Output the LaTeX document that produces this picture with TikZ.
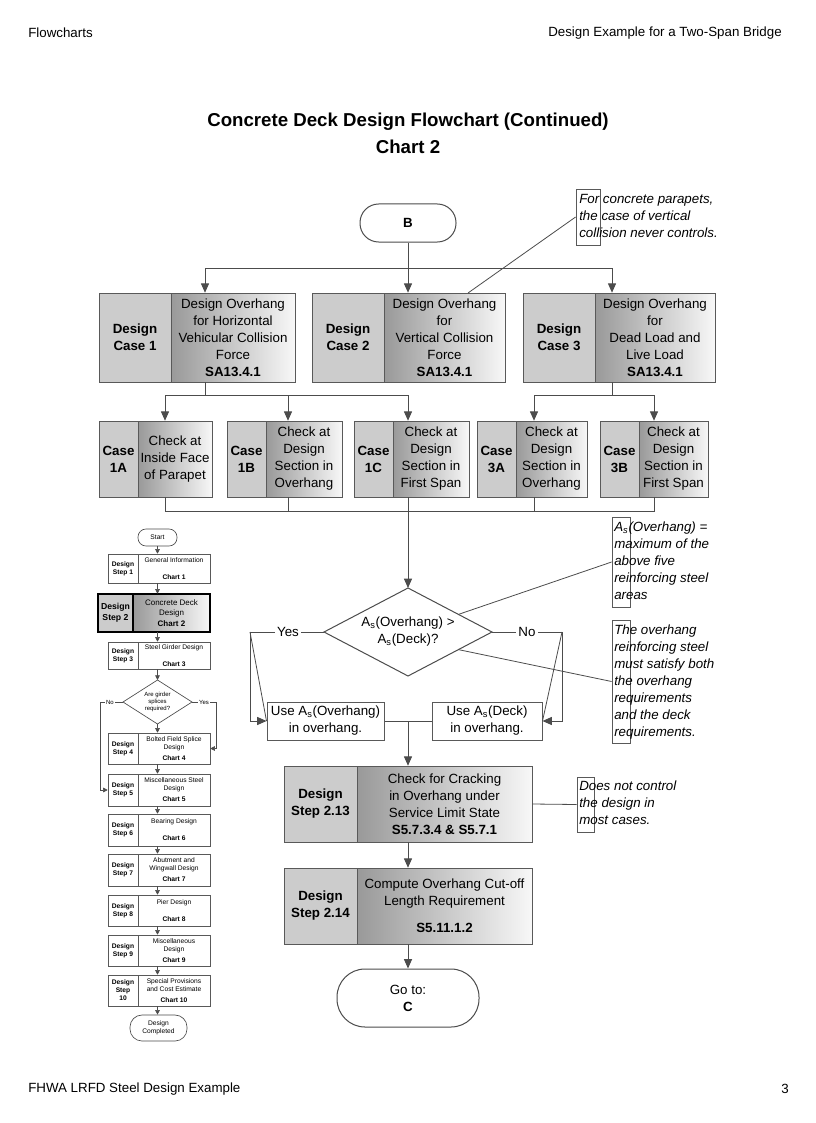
\documentclass[tikz,border=0pt]{standalone}
\usepackage{fontspec}
\setmainfont{Liberation Sans}
\usetikzlibrary{arrows.meta,calc}
\newcommand\pxu{0.75pt}
\newcommand\fs[2]{\fontsize{#1}{#2}\selectfont}
\tikzset{
 ln/.style={draw=black!70, line width=0.75pt},
 thin/.style={draw=black!70, line width=0.6pt},
 arr/.style={ln, -{Triangle[length=7pt,width=6pt]}},
 marr/.style={draw=black!70, line width=0.5pt, -{Triangle[length=3.5pt,width=3.5pt]}},
 mln/.style={draw=black!70, line width=0.5pt},
 lpart/.style={draw=black!65, line width=0.75pt, fill=black!20, inner sep=0pt, align=center, font=\bfseries\fs{10}{12.75}},
 rpart/.style={draw=black!65, line width=0.75pt, left color=black!40, right color=black!3, inner sep=0pt, align=center, font=\fs{10}{12.75}},
 plainbox/.style={draw=black!65, line width=0.75pt, fill=white, inner sep=0pt, align=center, font=\fs{10}{12.75}},
 term/.style={draw=black!70, line width=0.75pt, fill=white, inner sep=0pt, align=center, font=\fs{10}{12.75}},
 note/.style={inner sep=0pt, anchor=west, align=left, font=\itshape\fs{10}{12.75}},
 bracket/.style={draw=black!65, line width=0.6pt, inner sep=0pt},
 lbl/.style={fill=white, inner sep=1.5pt, font=\fs{10}{12}},
 mlbl/.style={fill=white, inner sep=0.6pt, font=\fs{4.5}{5}},
 mleft/.style={draw=black!65, line width=0.5pt, fill=white, inner sep=0pt, align=center, font=\bfseries\fs{5}{6}},
 mright/.style={draw=black!65, line width=0.5pt, fill=white, inner sep=0pt, align=center, font=\fs{5}{6}},
 hdr/.style={inner sep=0pt, font=\fs{10}{12}},
}
\newcommand\splitbx[8]{%
 \node[lpart, minimum width={(#3-#2)*\pxu}, minimum height={(#6-#5)*\pxu}] (#1L) at ({(#2+#3)/2},{(#5+#6)/2}) {#7};
 \node[rpart, minimum width={(#4-#3)*\pxu}, minimum height={(#6-#5)*\pxu}] (#1R) at ({(#3+#4)/2},{(#5+#6)/2}) {#8};
 \node[inner sep=0pt, minimum width={(#4-#2)*\pxu}, minimum height={(#6-#5)*\pxu}] (#1) at ({(#2+#4)/2},{(#5+#6)/2}) {};
}
\newcommand\ministep[5]{%
 \node[mleft, minimum width=30*\pxu, minimum height={(#3-#2)*\pxu}] (#1L) at (123,{(#2+#3)/2}) {#4};
 \node[mright, minimum width=72*\pxu, minimum height={(#3-#2)*\pxu}] (#1R) at (174,{(#2+#3)/2}) {#5};
 \node[inner sep=0pt, minimum width=102*\pxu, minimum height={(#3-#2)*\pxu}] (#1) at (159,{(#2+#3)/2}) {};
}
\begin{document}
\begin{tikzpicture}[x=0.75pt,y=-0.75pt]
\useasboundingbox (0,0) rectangle (816,1123);
\fill[white] (0,0) rectangle (816,1123);

% header / footer
\node[hdr, anchor=west] (hl) at (28,33) {Flowcharts};
\node[hdr, anchor=east] (hr) at (782,33) {Design Example for a Two-Span Bridge};
\node[hdr, anchor=west] (fl) at (28,1089) {FHWA LRFD Steel Design Example};
\node[hdr, anchor=east] (fr) at (789,1089) {3};

% title
\node[font=\bfseries\fs{14}{17}, inner sep=0pt] (title) at (408,122) {Concrete Deck Design Flowchart (Continued)};
\node[font=\bfseries\fs{14}{17}, inner sep=0pt] (title2) at (408,147) {Chart 2};

% B terminal
\node[term, minimum width=96*\pxu, minimum height=38*\pxu, rounded corners=14pt, font=\bfseries\fs{10}{12.75}] (B) at (408,223) {B};

% design cases
\splitbx{c1}{99}{171}{295}{293}{382}{Design\\Case 1}{Design Overhang\\for Horizontal\\Vehicular Collision\\Force\\\textbf{SA13.4.1}}
\splitbx{c2}{312}{384}{505}{293}{382}{Design\\Case 2}{Design Overhang\\for\\Vertical Collision\\Force\\\textbf{SA13.4.1}}
\splitbx{c3}{523}{595}{715}{293}{382}{Design\\Case 3}{Design Overhang\\for\\Dead Load and\\Live Load\\\textbf{SA13.4.1}}

% sub cases
\splitbx{k1A}{99}{138}{212}{421}{497}{Case\\1A}{Check at\\Inside Face\\of Parapet}
\splitbx{k1B}{227}{266}{342}{421}{497}{Case\\1B}{Check at\\Design\\Section in\\Overhang}
\splitbx{k1C}{354}{393}{469}{421}{497}{Case\\1C}{Check at\\Design\\Section in\\First Span}
\splitbx{k3A}{477}{516}{587}{421}{497}{Case\\3A}{Check at\\Design\\Section in\\Overhang}
\splitbx{k3B}{600}{639}{708}{421}{497}{Case\\3B}{Check at\\Design\\Section in\\First Span}

% decision
\coordinate (diaN) at (408,588);
\coordinate (diaE) at (492,632);
\coordinate (diaS) at (408,676);
\coordinate (diaW) at (324,632);
\draw[ln, fill=white] (diaN) -- (diaE) -- (diaS) -- (diaW) -- cycle;
\node[align=center, inner sep=0pt, font=\fs{10}{12.75}] (dia) at (408,632) {A\textsubscript{s}(Overhang) >\\A\textsubscript{s}(Deck)?};

% use boxes
\node[plainbox, minimum width=117*\pxu, minimum height=38*\pxu] (u1) at (325.5,721) {Use A\textsubscript{s}(Overhang)\\in overhang.};
\node[plainbox, minimum width=110*\pxu, minimum height=38*\pxu] (u2) at (487,721) {Use A\textsubscript{s}(Deck)\\in overhang.};

% steps
\splitbx{s13}{284}{357}{532}{766}{842}{Design\\Step 2.13}{Check for Cracking\\in Overhang under\\Service Limit State\\\textbf{S5.7.3.4 \& S5.7.1}}
\splitbx{s14}{284}{357}{532}{868}{944}{Design\\Step 2.14}{Compute Overhang Cut-off\\Length Requirement\\[7.5pt]\textbf{S5.11.1.2}}

% Go to C
\node[term, minimum width=142*\pxu, minimum height=58*\pxu, rounded corners=21pt] (goC) at (408,998) {Go to:\\\textbf{C}};

% notes
\node[bracket, minimum width=24*\pxu, minimum height=56*\pxu] (n1b) at (588,217) {};
\node[note] (n1t) at (579,216) {For concrete parapets,\\the case of vertical\\collision never controls.};
\node[bracket, minimum width=18*\pxu, minimum height=90*\pxu] (n2b) at (621,562) {};
\node[note] (n2t) at (614,561) {A\textsubscript{s}(Overhang) =\\maximum of the\\above five\\reinforcing steel\\areas};
\node[bracket, minimum width=18*\pxu, minimum height=123*\pxu] (n3b) at (621,681.5) {};
\node[note] (n3t) at (614,682) {The overhang\\reinforcing steel\\must satisfy both\\the overhang\\requirements\\and the deck\\requirements.};
\node[bracket, minimum width=17*\pxu, minimum height=55*\pxu] (n4b) at (585.5,804.5) {};
\node[note] (n4t) at (579,803) {Does not control\\the design in\\most cases.};

% connectors top
\coordinate (jtl) at (205,268);
\coordinate (jtr) at (612,268);
\draw[ln] (jtl) -- (jtr);
\draw[arr] (B.south) -- (B.south |- c2.north);
\draw[arr] (jtl) -- (jtl |- c1.north);
\draw[arr] (jtr) -- (jtr |- c3.north);

% case 1 fan out
\coordinate (jb1) at (205,395);
\coordinate (jb1l) at (165,395);
\coordinate (jb1m) at (288,395);
\coordinate (jb1r) at (408,395);
\draw[ln] (jb1 |- c1.south) -- (jb1);
\draw[ln] (jb1l) -- (jb1r);
\draw[arr] (jb1l) -- (jb1l |- k1A.north);
\draw[arr] (jb1m) -- (jb1m |- k1B.north);
\draw[arr] (jb1r) -- (jb1r |- k1C.north);
% case 3 fan out
\coordinate (jb3) at (612,395);
\coordinate (jb3l) at (534,395);
\coordinate (jb3r) at (654,395);
\draw[ln] (jb3 |- c3.south) -- (jb3);
\draw[ln] (jb3l) -- (jb3r);
\draw[arr] (jb3l) -- (jb3l |- k3A.north);
\draw[arr] (jb3r) -- (jb3r |- k3B.north);

% collector
\coordinate (cl) at (165,511);
\coordinate (cb) at (288,511);
\coordinate (cm) at (408,511);
\coordinate (ca) at (534,511);
\coordinate (cr) at (654,511);
\draw[ln] (cl |- k1A.south) -- (cl) -- (cr) -- (cr |- k3B.south);
\draw[ln] (cb |- k1B.south) -- (cb);
\draw[ln] (ca |- k3A.south) -- (ca);
\draw[arr] (cm |- k1C.south) -- (diaN);

% yes / no
\coordinate (yl) at (250,632);
\coordinate (nr) at (562,632);
\draw[ln] (diaW) -- (yl);
\node[lbl] (yes) at (288,632) {Yes};
\draw[arr] (yl) -- (yl |- u1.west) -- (u1.west);
\draw[thin] (yl) -- (u1.west);
\draw[ln] (diaE) -- (nr);
\node[lbl] (no) at (527,632) {No};
\draw[arr] (nr) -- (nr |- u2.east) -- (u2.east);
\draw[thin] (nr) -- (u2.east);
\coordinate (jm) at (408,721);
\draw[ln] (u1.east) -- (u2.west);
\draw[arr] (jm) -- (s13.north);
\draw[arr] (s13.south) -- (s14.north);
\draw[arr] (s14.south) -- (goC.north);

% note leaders
\coordinate (n1a) at (468,293);
\draw[thin] (n1a) -- (n1b.west);
\draw[thin] ($(diaE)!0.4!(diaN)$) -- (n2b.west);
\draw[thin] ($(diaE)!0.4!(diaS)$) -- (n3b.west);
\draw[thin] (s13.east) -- (n4b.west);

% ---------------- mini flowchart ----------------
\node[term, line width=0.5pt, minimum width=39*\pxu, minimum height=17*\pxu, rounded corners=6pt, font=\fs{5}{6}] (mS) at (157.5,537.5) {Start};
\ministep{m1}{554}{583}{Design\\Step 1}{General Information\\[6.75pt]\textbf{Chart 1}}
\node[draw=black, line width=1.5pt, fill=black!20, minimum width=35*\pxu, minimum height=38*\pxu, inner sep=0pt, align=center, font=\bfseries\fs{6.5}{8}] (m2L) at (115.5,613) {Design\\Step 2};
\node[draw=black, line width=1.5pt, left color=black!40, right color=black!3, minimum width=77*\pxu, minimum height=38*\pxu, inner sep=0pt, align=center, font=\fs{6}{7.5}] (m2R) at (171.5,613) {Concrete Deck\\Design\\[1pt]\textbf{Chart 2}};
\node[inner sep=0pt, minimum width=112*\pxu, minimum height=38*\pxu] (m2) at (154,613) {};
\ministep{m3}{642}{669}{Design\\Step 3}{Steel Girder Design\\[6.75pt]\textbf{Chart 3}}
\coordinate (mDN) at (157.5,680);
\coordinate (mDE) at (192,702);
\coordinate (mDS) at (157.5,724);
\coordinate (mDW) at (123,702);
\draw[mln, fill=white] (mDN) -- (mDE) -- (mDS) -- (mDW) -- cycle;
\node[align=center, inner sep=0pt, font=\fs{4.5}{5.5}] (mD) at (157.5,702) {Are girder\\splices\\required?};
\ministep{m4}{733}{764}{Design\\Step 4}{Bolted Field Splice\\Design\\[2.25pt]\textbf{Chart 4}}
\ministep{m5}{774}{806}{Design\\Step 5}{Miscellaneous Steel\\Design\\[2.25pt]\textbf{Chart 5}}
\ministep{m6}{814}{846}{Design\\Step 6}{Bearing Design\\[6.75pt]\textbf{Chart 6}}
\ministep{m7}{854}{886}{Design\\Step 7}{Abutment and\\Wingwall Design\\[2.25pt]\textbf{Chart 7}}
\ministep{m8}{895}{926}{Design\\Step 8}{Pier Design\\[6.75pt]\textbf{Chart 8}}
\ministep{m9}{935}{966}{Design\\Step 9}{Miscellaneous\\Design\\[2.25pt]\textbf{Chart 9}}
\ministep{m10}{975}{1006}{Design\\Step\\10}{Special Provisions\\and Cost Estimate\\[2.25pt]\textbf{Chart 10}}
\node[term, line width=0.5pt, minimum width=57*\pxu, minimum height=26*\pxu, rounded corners=9pt, font=\fs{5}{6}] (mE) at (158.5,1028) {Design\\Completed};

\draw[marr] (mS.south) -- (mS.south |- m1.north);
\draw[marr] (m1.south -| mS.south) -- (m2.north -| mS.south);
\draw[marr] (m2.south -| mS.south) -- (m3.north -| mS.south);
\draw[marr] (m3.south -| mS.south) -- (mDN);
\draw[marr] (mDS) -- (m4.north -| mDS);
\draw[marr] (m4.south -| mDS) -- (m5.north -| mDS);
\draw[marr] (m5.south -| mDS) -- (m6.north -| mDS);
\draw[marr] (m6.south -| mDS) -- (m7.north -| mDS);
\draw[marr] (m7.south -| mDS) -- (m8.north -| mDS);
\draw[marr] (m8.south -| mDS) -- (m9.north -| mDS);
\draw[marr] (m9.south -| mDS) -- (m10.north -| mDS);
\draw[marr] (m10.south -| mDS) -- (mE.north -| mDS);

\coordinate (mNo) at (100,702);
\coordinate (mYes) at (216,702);
\draw[mln] (mDW) -- (mNo);
\node[mlbl] (mNoL) at (110,702) {No};
\draw[marr] (mNo) -- (mNo |- m5.west) -- (m5.west);
\draw[mln] (mDE) -- (mYes);
\node[mlbl] (mYesL) at (204,702) {Yes};
\draw[marr] (mYes) -- (mYes |- m4.east) -- (m4.east);
\end{tikzpicture}
\end{document}
